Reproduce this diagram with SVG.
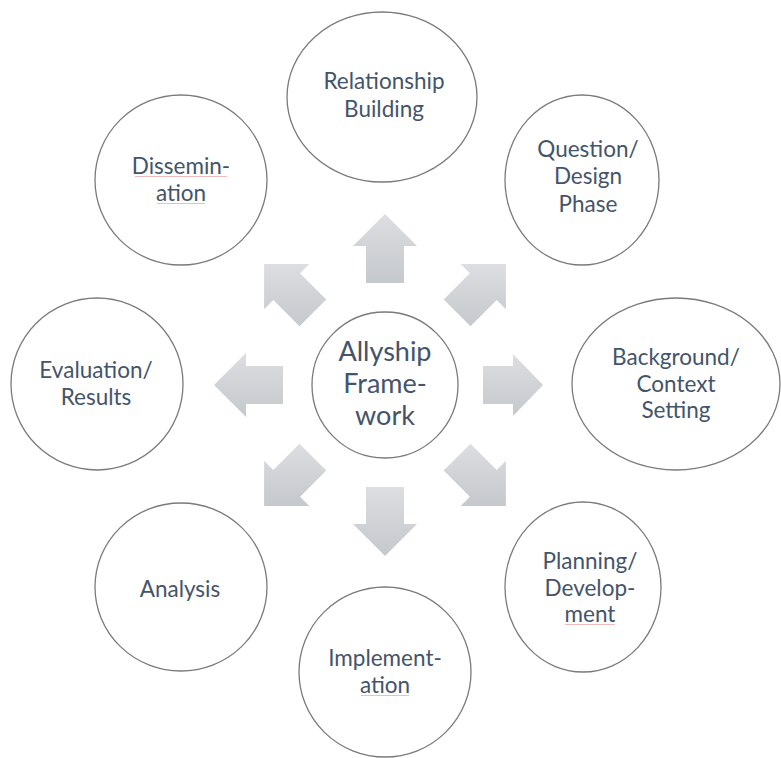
<svg xmlns="http://www.w3.org/2000/svg" width="781" height="758" viewBox="0 0 781 758">
  <defs>
    <linearGradient id="arrowFill" x1="0" y1="0" x2="0" y2="1">
      <stop offset="0" stop-color="#dcdee1"/>
      <stop offset="1" stop-color="#c5c8cc"/>
    </linearGradient>
    <style>
      .node { fill: #ffffff; stroke: #7a7a7a; stroke-width: 1.3; }
      .label { font-family: Lato, "Liberation Sans", sans-serif; font-size: 22.5px; fill: #44546a; text-anchor: middle; }
      .hub { font-size: 27px; }
      .arrow { fill: url(#arrowFill); }
      .squiggle { stroke: #f0bcbc; stroke-width: 1; fill: none; }
    </style>
  </defs>
  <rect width="781" height="758" fill="#ffffff"/>

  <!-- radiating block arrows -->
  <g id="connectors">
    <polygon class="arrow" points="404,283 404,246 417,246 385,214 353,246 366,246 366,283"/>
    <polygon class="arrow" points="404,487 404,524 417,524 385,556 353,524 366,524 366,487"/>
    <polygon class="arrow" points="283,404 246,404 246,417 214,385 246,353 246,366 283,366"/>
    <polygon class="arrow" points="483,366 513,366 513,354 543,385 513,416 513,404 483,404"/>
    <polygon class="arrow" points="326.3,299.5 300.1,273.3 309.3,264.1 264.1,264.1 264.1,309.3 273.3,300.1 299.5,326.3"/>
    <polygon class="arrow" points="443.7,299.5 469.9,273.3 460.7,264.1 505.9,264.1 505.9,309.3 496.7,300.1 470.5,326.3"/>
    <polygon class="arrow" points="443.7,470.5 469.9,496.7 460.7,505.9 505.9,505.9 505.9,460.7 496.7,469.9 470.5,443.7"/>
    <polygon class="arrow" points="326.3,470.5 300.1,496.7 309.3,505.9 264.1,505.9 264.1,460.7 273.3,469.9 299.5,443.7"/>
  </g>

  <g id="hub">
    <circle class="node" cx="385" cy="385" r="73"/>
    <text class="label hub" x="385" y="361">Allyship</text>
    <text class="label hub" x="385" y="393">Frame-</text>
    <text class="label hub" x="385" y="425">work</text>
  </g>

  <g id="relationship-building">
    <ellipse class="node" cx="382" cy="97" rx="95" ry="85"/>
    <text class="label" x="384" y="89">Relationship</text>
    <text class="label" x="384" y="117">Building</text>
  </g>

  <g id="question-design">
    <ellipse class="node" cx="582" cy="180" rx="77" ry="85"/>
    <text class="label" x="588" y="157">Question/</text>
    <text class="label" x="588" y="184">Design</text>
    <text class="label" x="588" y="212">Phase</text>
  </g>

  <g id="background-context">
    <ellipse class="node" cx="676" cy="384" rx="104" ry="86"/>
    <text class="label" x="676" y="365">Background/</text>
    <text class="label" x="676" y="392">Context</text>
    <text class="label" x="676" y="418">Setting</text>
  </g>

  <g id="planning-development">
    <ellipse class="node" cx="583" cy="587" rx="78" ry="85"/>
    <text class="label" x="590" y="569">Planning/</text>
    <text class="label" x="590" y="596">Develop-</text>
    <text class="label" x="590" y="622">ment</text>
    <line class="squiggle" x1="565" y1="624.5" x2="615" y2="624.5"/>
  </g>

  <g id="implementation">
    <ellipse class="node" cx="385" cy="672" rx="86" ry="85"/>
    <text class="label" x="385" y="666">Implement-</text>
    <text class="label" x="385" y="693">ation</text>
    <line class="squiggle" x1="361" y1="695.5" x2="409" y2="695.5"/>
  </g>

  <g id="analysis">
    <ellipse class="node" cx="181" cy="587" rx="86" ry="84"/>
    <text class="label" x="180" y="597">Analysis</text>
  </g>

  <g id="evaluation-results">
    <ellipse class="node" cx="97" cy="384" rx="86" ry="86"/>
    <text class="label" x="96" y="378">Evaluation/</text>
    <text class="label" x="96" y="405">Results</text>
  </g>

  <g id="dissemination">
    <ellipse class="node" cx="181" cy="180" rx="86" ry="85"/>
    <text class="label" x="181" y="174">Dissemin-</text>
    <text class="label" x="181" y="201">ation</text>
    <line class="squiggle" x1="135" y1="176.5" x2="227" y2="176.5"/>
    <line class="squiggle" x1="157" y1="203.5" x2="205" y2="203.5"/>
  </g>
</svg>
